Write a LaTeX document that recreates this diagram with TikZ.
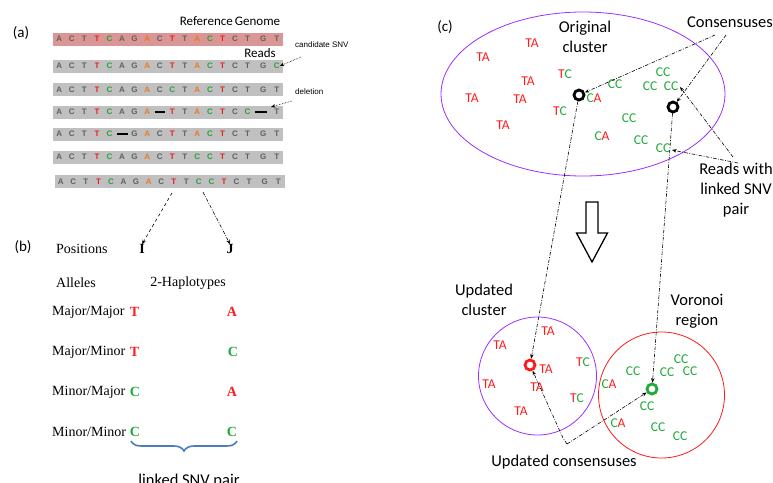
\documentclass[tikz,border=0pt]{standalone}
\usepackage{fontspec}
\setmainfont{Liberation Serif}
\setsansfont{Carlito}
\newfontfamily\arialf{Liberation Sans}
\usetikzlibrary{arrows.meta,decorations.pathreplacing,calc}
\definecolor{qg}{HTML}{606060}
\definecolor{qr}{HTML}{E8201C}
\definecolor{qn}{HTML}{2E9E3E}
\definecolor{qo}{HTML}{F07820}
\definecolor{bargray}{HTML}{C0C0C0}
\definecolor{barpink}{HTML}{D99694}
\definecolor{cred}{HTML}{FF1A1A}
\definecolor{cgreen}{HTML}{1FAA3B}
\definecolor{cpurple}{HTML}{9B30FF}
\definecolor{bblue}{HTML}{4A7EBB}
\newcommand\seqrow[4]{%
  \foreach \L/\c [count=\i from 0] in {#4} {
    \pgfmathsetmacro\xx{#3+(\i<16 ? 59.3+12.55*\i : (\i==16 ? 263.3 : 276.7))}
    \node[seq, text=\c] (#1-\i) at (\xx,#2) {\L};
  }%
}
\newcommand\ta{\textcolor{cred}{TA}}
\newcommand\tc{\textcolor{cred}{T}\textcolor{cgreen}{C}}
\newcommand\caa{\textcolor{cgreen}{C}\textcolor{cred}{A}}
\newcommand\ccc{\textcolor{cgreen}{CC}}
\begin{document}
\begin{tikzpicture}[x=1pt,y=-1pt,
  seq/.style={font=\arialf\bfseries\fontsize{8}{8}\selectfont, inner sep=0pt, text height=5.8pt, text depth=0pt, anchor=center},
  lab/.style={font=\sffamily\fontsize{13}{15}\selectfont, inner sep=0pt},
  panel/.style={font=\sffamily\fontsize{15}{18}\selectfont, inner sep=0pt},
  small/.style={font=\arialf\fontsize{8}{9}\selectfont, inner sep=0pt},
  tms/.style={font=\fontsize{14}{16}\selectfont, inner sep=0pt},
  tmsb/.style={font=\bfseries\fontsize{14}{16}\selectfont, inner sep=0pt},
  clab/.style={font=\sffamily\fontsize{16.5}{20}\selectfont, inner sep=0pt, align=center},
  rd/.style={font=\sffamily\fontsize{13.5}{16}\selectfont, inner sep=0pt},
  dd/.style={line width=0.6pt, dash pattern=on 3.5pt off 1.5pt on 0.8pt off 1.5pt},
  dt/.style={line width=0.6pt, densely dotted},
  tip/.style={-{Stealth[length=4.5pt,width=3.5pt]}},
  ring/.style={circle, draw, line width=2.8pt, minimum size=10pt, inner sep=0pt}
]
\useasboundingbox (0,0) rectangle (773,482);

% ---------- panel (a)
\node[panel] (pa) at (21,33) {(a)};
\fill[barpink] (53,32.5) rectangle (283,45.5);
\foreach \y in {66,89.5,112,134,157} {\fill[bargray] (53,\y-6.5) rectangle (283,\y+6.5);}
\fill[bargray] (55,175) rectangle (285,188);

\seqrow{r1}{39}{0}{A/qg,C/qg,T/qg,T/qr,C/qn,A/qg,G/qg,A/qo,C/qg,T/qr,T/qg,A/qo,C/qn,T/qr,C/qg,T/qg,G/qg,T/qg}
\seqrow{r2}{66}{0}{A/qg,C/qg,T/qg,T/qr,C/qn,A/qg,G/qg,A/qo,C/qg,T/qr,T/qg,A/qo,C/qn,T/qr,C/qg,T/qg,G/qg,C/qn}
\seqrow{r3}{89.5}{0}{A/qg,C/qg,T/qg,T/qr,C/qn,A/qg,G/qg,A/qo,C/qg,C/qn,T/qg,A/qo,C/qn,T/qr,C/qg,T/qg,G/qg,T/qg}
\seqrow{r4}{112}{0}{A/qg,C/qg,T/qg,T/qr,C/qn,A/qg,G/qg,A/qo,\phantom{A}/qg,T/qr,T/qg,A/qo,C/qn,T/qr,C/qg,C/qn,\phantom{A}/qg,T/qg}
\seqrow{r5}{134}{0}{A/qg,C/qg,T/qg,T/qr,C/qn,\phantom{A}/qg,G/qg,A/qo,C/qg,T/qr,T/qg,A/qo,C/qn,T/qr,C/qg,T/qg,G/qg,T/qg}
\seqrow{r6}{157}{0}{A/qg,C/qg,T/qg,T/qr,C/qn,A/qg,G/qg,A/qo,C/qg,T/qr,T/qg,C/qn,C/qn,T/qr,C/qg,T/qg,G/qg,T/qg}
\seqrow{r7}{181.5}{1.5}{A/qg,C/qg,T/qg,T/qr,C/qn,A/qg,G/qg,A/qo,C/qg,T/qr,T/qg,C/qn,C/qn,T/qr,C/qg,T/qg,G/qg,T/qg}
% deletions
\draw[line width=1.2pt] (154.5,112) -- (165,112);
\draw[line width=1.2pt] (255,112) -- (267,112);
\draw[line width=1.2pt] (116.5,134) -- (127.5,134);

\node[lab] (refg) at (230,21) {Reference\,Genome};
\node[lab] (reads) at (260,53) {Reads};
\node[small, anchor=west] (cand) at (295,45) {candidate SNV};
\node[small, anchor=west] (del) at (295,92) {deletion};
\coordinate (candS) at (301,57);
\coordinate (delS) at (292,101);
\draw[dt,tip] (candS) -- (r2-17.east);
\draw[dt,tip] (delS) -- (271,107);

% arrows to positions
\coordinate (aI) at (172,193);
\coordinate (aJ) at (203,192);

% ---------- panel (b)
\node[panel] (pb) at (23,247) {(b)};
\node[tms, anchor=west] (pos) at (56,249) {Positions};
\node[tmsb] (I) at (142,249) {I};
\node[tmsb] (J) at (230,249) {J};
\draw[dt,dashed,tip] (aI) -- (I.north);
\draw[dd,tip] (aJ) -- (J.north);
\node[tms, anchor=west] (alle) at (56,283) {Alleles};
\node[tms] (hap) at (188,283) {2-Haplotypes};
\node[tms, anchor=west] (mm1) at (52,312) {Major/Major};
\node[tms, anchor=west] (mm2) at (52,352) {Major/Minor};
\node[tms, anchor=west] (mm3) at (52,392) {Minor/Major};
\node[tms, anchor=west] (mm4) at (52,432) {Minor/Minor};
\node[tmsb, text=cred] (i1) at (134.5,312) {T};
\node[tmsb, text=cred] (j1) at (232,312) {A};
\node[tmsb, text=cred] (i2) at (134.5,352) {T};
\node[tmsb, text=cgreen] (j2) at (233,352) {C};
\node[tmsb, text=cgreen] (i3) at (135,392) {C};
\node[tmsb, text=cred] (j3) at (232,392) {A};
\node[tmsb, text=cgreen] (i4) at (135,432) {C};
\node[tmsb, text=cgreen] (j4) at (232,432) {C};
\draw[bblue, line width=1.6pt, decorate, decoration={brace, mirror, amplitude=10pt, aspect=0.5}] (131,441) -- (237,441);
\node[clab, anchor=base] (lsp) at (189,485) {linked SNV pair};

% ---------- panel (c)
\node[panel] (pc) at (445,27) {(c)};
\draw[cpurple, line width=0.8pt] (583,94) ellipse [x radius=142pt, y radius=82pt];
\node[clab] (orig) at (585,37) {Original\\cluster};
\node[clab] (cons) at (730,22) {Consensuses};
\node[clab] (rw) at (736,190) {Reads with\\linked SNV\\pair};

\node[rd] (t1) at (483,57) {\ta};
\node[rd] (t2) at (532,43) {\ta};
\node[rd] (t3) at (528,81) {\ta};
\node[rd] (t4) at (472,98) {\ta};
\node[rd] (t5) at (520,99) {\ta};
\node[rd] (t6) at (503,125) {\ta};
\node[rd] (t7) at (565,74) {\tc};
\node[rd] (t8) at (560,111) {\tc};
\node[rd] (t9) at (594,98) {\caa};
\node[rd] (t10) at (602,136) {\caa};
\node[rd] (k1) at (615,84) {\ccc};
\node[rd] (k2) at (663,72) {\ccc};
\node[rd] (k3) at (650,86) {\ccc};
\node[rd] (k4) at (671,86) {\ccc};
\node[rd] (k5) at (629,118) {\ccc};
\node[rd] (k6) at (641,140) {\ccc};
\node[rd] (k7) at (663,148) {\ccc};

\node[ring] (c1) at (579,95) {};
\node[ring] (c2) at (673,107) {};

\coordinate (consA) at (715,35);
\coordinate (consB) at (726,35);
\draw[dd,tip] (consA) -- (c1);
\draw[dd,tip] (consB) -- (c2);
\coordinate (rwA) at (733,157);
\coordinate (rwB) at (738,163);
\draw[dd,tip] (rwA) -- (680,87);
\draw[dd,tip] (rwB) -- (672,150);

% hollow arrow
\draw[line width=1.3pt, line join=miter] (586,202) -- (598,202) -- (598,233) -- (607.5,233) -- (592,262) -- (576.5,233) -- (586,233) -- cycle;

% updated cluster
\node[clab] (uc) at (484,300) {Updated\\cluster};
\node[clab] (vr) at (697,311) {Voronoi\\region};
\draw[cpurple, line width=0.8pt] (537.5,376) circle [radius=59pt];
\draw[cred, line width=0.8pt] (661.5,395) circle [radius=63pt];

\node[rd] (u1) at (548,331) {\ta};
\node[rd] (u2) at (500,345) {\ta};
\node[rd] (u3) at (546,369) {\ta};
\node[rd] (u4) at (583,362) {\tc};
\node[rd] (u5) at (489,384) {\ta};
\node[rd] (u6) at (537,387) {\ta};
\node[rd] (u7) at (577,398) {\tc};
\node[rd] (u8) at (521,411) {\ta};

\node[rd] (v1) at (609,384) {\caa};
\node[rd] (v2) at (633,371) {\ccc};
\node[rd] (v3) at (681,359) {\ccc};
\node[rd] (v4) at (667,372) {\ccc};
\node[rd] (v5) at (690,371) {\ccc};
\node[rd] (v6) at (647,406) {\ccc};
\node[rd] (v7) at (618,423) {\caa};
\node[rd] (v8) at (658,427) {\ccc};
\node[rd] (v9) at (680,436) {\ccc};

\node[ring, draw=cred] (nr) at (530,365) {};
\node[ring, draw=cgreen] (ng) at (652,389) {};

\draw[dd,tip] (c1) -- (nr);
\draw[dd,tip] (c2) -- (ng);

\coordinate (uv) at (567,444);
\draw[dd,tip] (uv) -- (563,438) -- (nr);
\draw[dd,tip] (uv) -- (ng);
\node[clab] (ucons) at (564,462) {Updated consensuses};
\end{tikzpicture}
\end{document}
